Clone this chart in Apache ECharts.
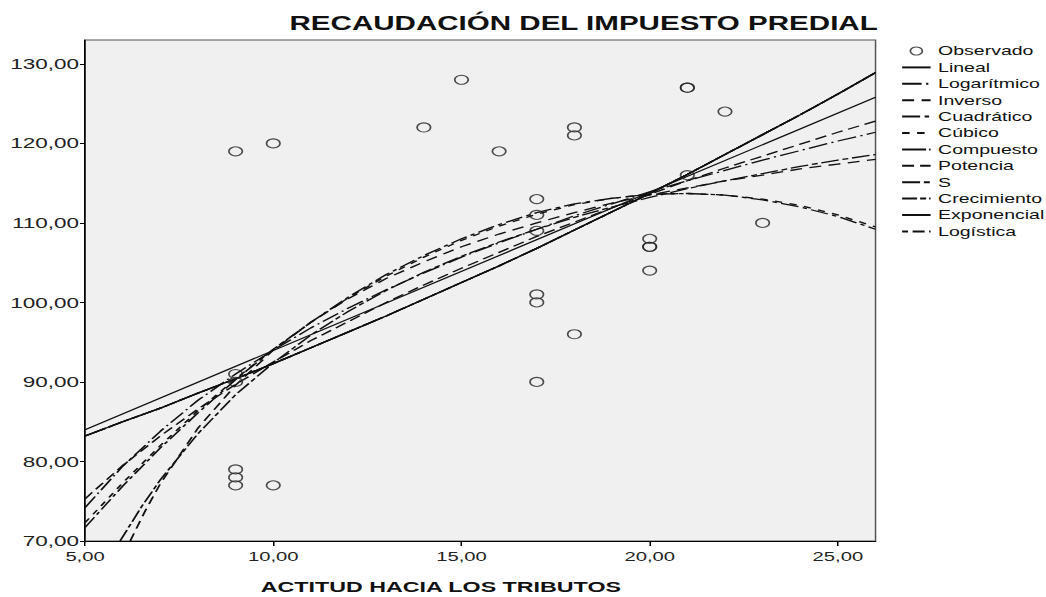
<!DOCTYPE html>
<html><head><meta charset="utf-8">
<script src="https://cdn.jsdelivr.net/npm/echarts@6/dist/echarts.min.js"></script>
<style>
html,body{margin:0;padding:0;background:#fff;overflow:hidden;width:1046px;height:597px}
#main{width:697.333px;height:597px;transform:scaleX(1.5);transform-origin:0 0;}
</style></head><body><div id="main"></div>
<script>
// Observed points
const obsX = [9, 9, 9, 9, 9, 9, 10, 10, 14, 15, 16, 17, 17, 17, 17, 17, 17, 18, 18, 18, 20, 20, 20, 20, 21, 21, 21, 22, 23];
const obsY = [119, 91, 90, 79, 78, 77, 120, 77, 122, 128, 119, 113, 111, 109, 101, 100, 90, 122, 121, 96, 108, 107, 107, 104, 127, 127, 116, 124, 110];

// Fitted curves
const curveX = [5, 6, 7, 8, 9, 10, 11, 12, 13, 14, 15, 16, 17, 18, 19, 20, 21, 22, 23, 24, 25, 26];
const linX = [5, 26];
const linY = [84.0, 125.8];
const logY  = [74.2, 79.4, 83.8, 87.7, 91.0, 94.0, 96.8, 99.3, 101.6, 103.7, 105.7, 107.5, 109.2, 110.9, 112.4, 113.9, 115.3, 116.6, 117.9, 119.1, 120.3, 121.4];
const quadY = [71.7, 76.9, 81.7, 86.1, 90.3, 94.1, 97.5, 100.7, 103.5, 105.9, 108.0, 109.8, 111.3, 112.4, 113.1, 113.6, 113.7, 113.5, 112.9, 112.0, 110.8, 109.2];
const cubY  = [72.3, 77.3, 82.0, 86.4, 90.4, 94.1, 97.5, 100.6, 103.3, 105.7, 107.8, 109.6, 111.1, 112.3, 113.1, 113.6, 113.7, 113.5, 113.0, 112.2, 111.0, 109.5];
const powY  = [75.3, 79.5, 83.2, 86.6, 89.7, 92.5, 95.2, 97.6, 100.0, 102.2, 104.3, 106.3, 108.3, 110.1, 111.9, 113.6, 115.3, 116.9, 118.4, 119.9, 121.4, 122.8];
const expY  = [83.2, 85.0, 86.7, 88.6, 90.4, 92.3, 94.3, 96.3, 98.3, 100.4, 102.5, 104.6, 106.8, 109.1, 111.4, 113.7, 116.1, 118.6, 121.1, 123.6, 126.2, 128.9];
const invX = [6.2, 6.6, 7, 8, 9, 10, 11, 12, 13, 14, 15, 16, 17, 18, 19, 20, 21, 22, 23, 24, 25, 26];
const invY = [70.0, 73.8, 77.2, 84.2, 89.6, 94.0, 97.5, 100.5, 103.0, 105.1, 107.0, 108.6, 110.0, 111.3, 112.5, 113.5, 114.4, 115.3, 116.0, 116.8, 117.4, 118.0];
const sX = [5.93, 6.5, 7, 8, 9, 10, 11, 12, 13, 14, 15, 16, 17, 18, 19, 20, 21, 22, 23, 24, 25, 26];
const sY = [70.0, 74.3, 77.7, 83.5, 88.4, 92.4, 95.9, 98.9, 101.5, 103.8, 105.8, 107.6, 109.2, 110.7, 112.0, 113.2, 114.3, 115.3, 116.2, 117.1, 117.9, 118.6];

const xTicks = [5, 10, 15, 20, 25];
const yTicks = [70, 80, 90, 100, 110, 120, 130];
const legendNames = ['Observado', 'Lineal', 'Logarítmico', 'Inverso', 'Cuadrático', 'Cúbico', 'Compuesto', 'Potencia', 'S', 'Crecimiento', 'Exponencial', 'Logística'];

const zip = (xs, ys) => xs.map((x, i) => [x, ys[i]]);
const fmt = v => v.toFixed(2).replace('.', ',');
const FONT = '"Liberation Sans", Arial, sans-serif';
const INK = '#111';

function lineSeries(name, xs, ys, dash, width) {
  return {
    name: name, type: 'line', data: zip(xs, ys), symbol: 'none', smooth: false,
    lineStyle: { color: INK, width: width || 1.3, type: dash },
    itemStyle: { color: INK }, silent: true, z: 3
  };
}

const chart = echarts.init(document.getElementById('main'), null, { renderer: 'svg' });
chart.setOption({
  animation: false,
  backgroundColor: '#ffffff',
  title: {
    text: 'RECAUDACIÓN DEL IMPUESTO PREDIAL',
    left: 188, top: 8,
    textStyle: { fontFamily: FONT, fontSize: 19.7, fontWeight: 'bold', color: INK }
  },
  grid: {
    left: 56.7, right: 113.3, top: 40, bottom: 56,
    outerBoundsMode: 'none', containLabel: false,
    show: true, backgroundColor: '#f0f0f0', borderColor: '#555', borderWidth: 1
  },
  legend: {
    orient: 'vertical', left: 600.4, top: 44, padding: 0,
    itemWidth: 19, itemHeight: 8, itemGap: 2.4,
    textStyle: { fontFamily: FONT, fontSize: 13, color: INK, lineHeight: 14 },
    itemStyle: { color: 'rgba(0,0,0,0)', borderWidth: 0 },
    data: legendNames.map(n => n === 'Observado'
      ? { name: n, itemStyle: { color: 'rgba(0,0,0,0)', borderColor: '#222', borderWidth: 1.1 } }
      : { name: n }),
    selectedMode: false
  },
  xAxis: {
    type: 'value', min: 5, max: 26, interval: 5,
    name: 'ACTITUD HACIA LOS TRIBUTOS', nameLocation: 'middle', nameGap: 38,
    nameTextStyle: { fontFamily: FONT, fontSize: 15.5, fontWeight: 'bold', color: INK, padding: [0, 52.6, 0, 0] },
    axisLine: { show: true, onZero: false, lineStyle: { color: '#000', width: 1 } },
    axisTick: { show: true, length: 5, customValues: xTicks, lineStyle: { color: '#000' } },
    axisLabel: { customValues: xTicks, formatter: fmt, fontFamily: FONT, fontSize: 13.5, color: '#222', margin: 8 },
    splitLine: { show: false }
  },
  yAxis: {
    type: 'value', min: 70, max: 133, interval: 10,
    axisLine: { show: true, onZero: false, lineStyle: { color: '#000', width: 1 } },
    axisTick: { show: true, length: 3.4, customValues: yTicks, lineStyle: { color: '#000' } },
    axisLabel: { customValues: yTicks, formatter: fmt, fontFamily: FONT, fontSize: 15, color: '#222', margin: 4 },
    splitLine: { show: false }
  },
  series: [
    {
      name: 'Observado', type: 'scatter', data: zip(obsX, obsY), symbol: 'circle', symbolSize: 9,
      itemStyle: { color: 'rgba(0,0,0,0)', borderColor: '#222', borderWidth: 1.1 }, z: 5, silent: true
    },
    lineSeries('Lineal', linX, linY, 'solid', 1.2),
    lineSeries('Logarítmico', curveX, logY, [13, 3, 1.5, 3]),
    lineSeries('Inverso', invX, invY, [8, 5]),
    lineSeries('Cuadrático', curveX, quadY, [12, 3, 3, 3]),
    lineSeries('Cúbico', curveX, cubY, [5, 5]),
    lineSeries('Compuesto', curveX, expY, [16, 2, 1.5, 2]),
    lineSeries('Potencia', curveX, powY, [8, 4]),
    lineSeries('S', sX, sY, [12, 2.5, 4, 2.5]),
    lineSeries('Crecimiento', curveX, expY, [10, 2, 4, 2]),
    lineSeries('Exponencial', curveX, expY, 'solid', 1.3),
    lineSeries('Logística', curveX, expY, [4, 3, 8, 3])
  ]
});
</script></body></html>
